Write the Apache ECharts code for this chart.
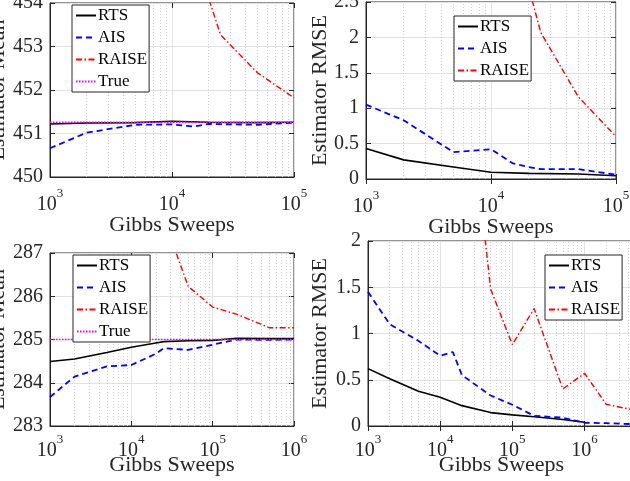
<!DOCTYPE html>
<html>
<head>
<meta charset="utf-8">
<script src="https://cdn.jsdelivr.net/npm/echarts@6/dist/echarts.min.js"></script>
<style>
	html, body { margin: 0; padding: 0; background: #fff; }
	#chart { width: 630px; height: 481px; }
</style>
</head>
<body>
<div id="chart"></div>
<script>
// panel 1: estimator mean, up to 1e5 sweeps
var p1RtsX = [1e3, 2e3, 5e3, 1e4, 2e4, 5e4, 1e5];
var p1RtsY = [451.22, 451.24, 451.25, 451.28, 451.26, 451.25, 451.26];
var p1AisX = [1e3, 2e3, 5e3, 1e4, 1.5e4, 2e4, 5e4, 1e5];
var p1AisY = [450.66, 451.02, 451.2, 451.21, 451.16, 451.22, 451.2, 451.25];
var p1RaiseX = [1e4, 2e4, 2.5e4, 5e4, 1e5];
var p1RaiseY = [458, 454.1, 453.27, 452.4, 451.82];
var p1True = 451.26;

// panel 2: estimator rmse, up to 1e5 sweeps
var p2RtsX = [1e3, 2e3, 5e3, 1e4, 2e4, 5e4, 1e5];
var p2RtsY = [0.43, 0.27, 0.17, 0.095, 0.08, 0.07, 0.045];
var p2AisX = [1e3, 2e3, 5e3, 1e4, 1.5e4, 2e4, 2.5e4, 5e4, 1e5];
var p2AisY = [1.05, 0.83, 0.38, 0.42, 0.22, 0.17, 0.14, 0.14, 0.06];
var p2RaiseX = [1e4, 2e4, 2.5e4, 5e4, 1e5];
var p2RaiseY = [4.0, 2.71, 2.07, 1.16, 0.60];

// panel 3: estimator mean, up to 1e6 sweeps
var p3RtsX = [1e3, 2e3, 5e3, 1e4, 2e4, 2.5e4, 5e4, 1e5, 2e5, 5e5, 1e6];
var p3RtsY = [284.49, 284.55, 284.7, 284.82, 284.92, 284.95, 284.97, 284.98, 285.03, 285.02, 285.02];
var p3AisX = [1e3, 2e3, 5e3, 1e4, 2e4, 2.5e4, 5e4, 1e5, 2e5, 5e5, 1e6];
var p3AisY = [283.67, 284.14, 284.38, 284.41, 284.67, 284.8, 284.76, 284.88, 285.0, 284.99, 285.0];
var p3RaiseX = [2.5e4, 5e4, 1e5, 2e5, 5e5, 1e6];
var p3RaiseY = [287.8, 286.23, 285.75, 285.58, 285.27, 285.27];
var p3True = 285.0;

// panel 4: estimator rmse, up to 5e6 sweeps
var p4RtsX = [1e3, 2e3, 5e3, 1e4, 2e4, 5e4, 1e5, 2e5, 5e5, 1e6];
var p4RtsY = [0.62, 0.51, 0.375, 0.31, 0.22, 0.145, 0.12, 0.10, 0.07, 0.04];
var p4AisX = [1e3, 2e3, 5e3, 1e4, 1.5e4, 2e4, 5e4, 1e5, 2e5, 5e5, 1e6, 2e6, 5e6];
var p4AisY = [1.45, 1.1, 0.92, 0.76, 0.8, 0.55, 0.33, 0.23, 0.11, 0.09, 0.035, 0.03, 0.02];
var p4RaiseX = [2e4, 5e4, 1e5, 2e5, 5e5, 1e6, 2e6, 5e6];
var p4RaiseY = [4.3, 1.48, 0.88, 1.27, 0.40, 0.57, 0.235, 0.17];

var fontFam = 'Liberation Serif';
var textCol = '#262626';

var styles = {
	RTS: {color: '#000000', type: 'solid', width: 1.6},
	AIS: {color: '#0000ff', type: [6, 4], width: 1.8},
	RAISE: {color: '#ff0000', type: [6, 2.5, 1.5, 2.5], width: 1.4},
	True: {color: '#ff00ff', type: [1.5, 1.5], width: 1.4}
};

function pts(xs, ys) {
	return xs.map(function (x, i) { return [x, ys[i]]; });
}

function line(idx, name, data) {
	var st = styles[name];
	return {
		type: 'line',
		name: name,
		xAxisIndex: idx,
		yAxisIndex: idx,
		data: data,
		symbol: 'none',
		z: 3,
		animation: false,
		color: st.color,
		lineStyle: {color: st.color, type: st.type, width: st.width}
	};
}

// dotted minor grid lines for the log axis
function minorGrid(idx, min, max, y0) {
	var marks = [];
	for (var d = Math.round(Math.log10(min)); Math.pow(10, d) < max; d++) {
		for (var k = 2; k <= 9; k++) {
			var v = k * Math.pow(10, d);
			if (v < max) marks.push({xAxis: v});
		}
	}
	return {
		type: 'line',
		name: 'minor',
		xAxisIndex: idx,
		yAxisIndex: idx,
		data: [[min, y0]],
		symbol: 'none',
		z: 1,
		animation: false,
		lineStyle: {opacity: 0},
		markLine: {
			silent: true,
			z: 1,
			symbol: ['none', 'none'],
			label: {show: false},
			animation: false,
			lineStyle: {color: '#d2d2d2', type: [1, 2], width: 1},
			data: marks
		}
	};
}

function xAxisLog(idx, min, max, labelGap, nameGap) {
	return {
		type: 'log',
		logBase: 10,
		gridIndex: idx,
		min: min,
		max: max,
		name: 'Gibbs Sweeps',
		nameLocation: 'middle',
		nameGap: nameGap,
		nameMoveOverlap: false,
		nameTextStyle: {fontFamily: fontFam, fontSize: 22, color: textCol},
		axisLine: {lineStyle: {color: textCol, width: 1}},
		axisTick: {inside: true, length: 5, lineStyle: {color: textCol}},
		splitLine: {show: true, lineStyle: {color: '#e2e2e2', width: 1}},
		axisLabel: {
			margin: labelGap,
			fontFamily: fontFam,
			fontSize: 20,
			color: textCol,
			formatter: function (v) {
				var e = Math.log10(v);
				if (Math.abs(e - Math.round(e)) > 1e-6) return '';
				return '{b|10}{sup|' + Math.round(e) + '}';
			},
			rich: {
				b: {fontFamily: fontFam, fontSize: 20, color: textCol, lineHeight: 28, verticalAlign: 'bottom'},
				sup: {fontFamily: fontFam, fontSize: 13, color: textCol, lineHeight: 14, verticalAlign: 'top'}
			}
		}
	};
}

// top edge of the box: ticks only
function xAxisTop(idx, min, max) {
	return {
		type: 'log',
		logBase: 10,
		gridIndex: idx,
		position: 'top',
		min: min,
		max: max,
		axisLine: {show: false},
		axisTick: {show: true, inside: true, length: 5, lineStyle: {color: textCol}},
		axisLabel: {show: false},
		splitLine: {show: false}
	};
}

function yAxisVal(idx, min, max, step, name, gap) {
	return {
		type: 'value',
		gridIndex: idx,
		min: min,
		max: max,
		interval: step,
		name: name,
		nameLocation: 'middle',
		nameRotate: 90,
		nameGap: gap,
		nameMoveOverlap: false,
		nameTextStyle: {fontFamily: fontFam, fontSize: 22, color: textCol},
		axisLine: {show: true, lineStyle: {color: textCol, width: 1}},
		axisTick: {show: true, inside: true, length: 5, lineStyle: {color: textCol}},
		splitLine: {show: true, lineStyle: {color: '#e2e2e2', width: 1}},
		axisLabel: {margin: 7, fontFamily: fontFam, fontSize: 20, color: textCol}
	};
}

// right edge of the box: ticks only
function yAxisRight(idx, min, max, step) {
	return {
		type: 'value',
		gridIndex: idx,
		position: 'right',
		min: min,
		max: max,
		interval: step,
		axisLine: {show: false},
		axisTick: {show: true, inside: true, length: 5, lineStyle: {color: textCol}},
		axisLabel: {show: false},
		splitLine: {show: false}
	};
}

function legendAt(left, top, names) {
	return {
		orient: 'vertical',
		left: left,
		top: top,
		z: 10,
		data: names,
		itemWidth: 20,
		itemHeight: 14,
		itemGap: 5,
		padding: [2, 2, 2, 3],
		borderColor: textCol,
		borderWidth: 1,
		borderRadius: 0,
		backgroundColor: '#ffffff',
		selectedMode: false,
		itemStyle: {opacity: 0},
		textStyle: {fontFamily: fontFam, fontSize: 17, color: '#000', padding: [0, 0, 0, -3]}
	};
}

function gridAt(left, top, width, height) {
	return {
		left: left, top: top, width: width, height: height,
		outerBoundsMode: 'none',
		containLabel: false,
		show: true,
		borderColor: textCol,
		borderWidth: 1,
		backgroundColor: '#fff'
	};
}

var chart = echarts.init(document.getElementById('chart'));

var options = {
	backgroundColor: '#ffffff',
	animation: false,
	grid: [
		gridAt(50, 3, 244, 174),
		gridAt(366, 2, 250, 177),
		gridAt(50, 253, 244, 173),
		gridAt(368, 241, 267, 185)
	],
	xAxis: [
		xAxisLog(0, 1e3, 1e5, 10, 37),
		xAxisLog(1, 1e3, 1e5, 10, 37),
		xAxisLog(2, 1e3, 1e6, 7, 28),
		xAxisLog(3, 1e3, 5e6, 7, 28),
		xAxisTop(0, 1e3, 1e5),
		xAxisTop(1, 1e3, 1e5),
		xAxisTop(2, 1e3, 1e6),
		xAxisTop(3, 1e3, 5e6)
	],
	yAxis: [
		yAxisVal(0, 450, 454, 1, 'Estimator Mean', 41),
		yAxisVal(1, 0, 2.5, 0.5, 'Estimator RMSE', 35),
		yAxisVal(2, 283, 287, 1, 'Estimator Mean', 41),
		yAxisVal(3, 0, 2, 0.5, 'Estimator RMSE', 37),
		yAxisRight(0, 450, 454, 1),
		yAxisRight(1, 0, 2.5, 0.5),
		yAxisRight(2, 283, 287, 1),
		yAxisRight(3, 0, 2, 0.5)
	],
	legend: [
		legendAt(72, 5, ['RTS', 'AIS', 'RAISE', 'True']),
		legendAt(454, 16, ['RTS', 'AIS', 'RAISE']),
		legendAt(73, 255, ['RTS', 'AIS', 'RAISE', 'True']),
		legendAt(545, 255, ['RTS', 'AIS', 'RAISE'])
	],
	series: [
		minorGrid(0, 1e3, 1e5, 450),
		line(0, 'RTS', pts(p1RtsX, p1RtsY)),
		line(0, 'AIS', pts(p1AisX, p1AisY)),
		line(0, 'RAISE', pts(p1RaiseX, p1RaiseY)),
		line(0, 'True', [[1e3, p1True], [1e5, p1True]]),

		minorGrid(1, 1e3, 1e5, 0),
		line(1, 'RTS', pts(p2RtsX, p2RtsY)),
		line(1, 'AIS', pts(p2AisX, p2AisY)),
		line(1, 'RAISE', pts(p2RaiseX, p2RaiseY)),

		minorGrid(2, 1e3, 1e6, 283),
		line(2, 'RTS', pts(p3RtsX, p3RtsY)),
		line(2, 'AIS', pts(p3AisX, p3AisY)),
		line(2, 'RAISE', pts(p3RaiseX, p3RaiseY)),
		line(2, 'True', [[1e3, p3True], [1e6, p3True]]),

		minorGrid(3, 1e3, 5e6, 0),
		line(3, 'RTS', pts(p4RtsX, p4RtsY)),
		line(3, 'AIS', pts(p4AisX, p4AisY)),
		line(3, 'RAISE', pts(p4RaiseX, p4RaiseY))
	]
};

chart.setOption(options);
</script>
</body>
</html>
